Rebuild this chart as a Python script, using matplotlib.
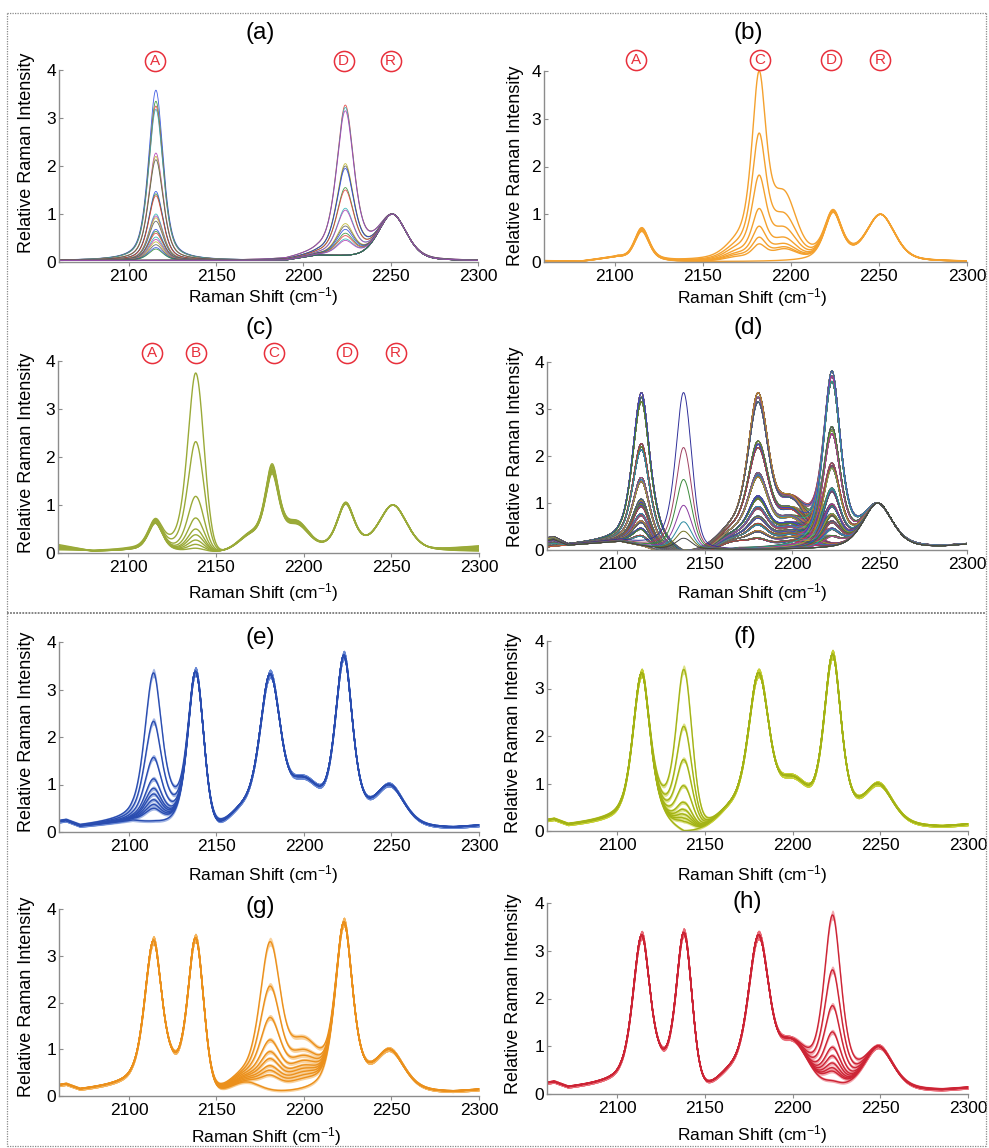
import numpy as np
import matplotlib
matplotlib.use("Agg")
import matplotlib.pyplot as plt
from matplotlib.collections import LineCollection
from matplotlib.lines import Line2D
from matplotlib.transforms import blended_transform_factory

plt.rcParams['font.family'] = ['Liberation Sans', 'DejaVu Sans']
plt.rcParams['mathtext.fontset'] = 'custom'
plt.rcParams['mathtext.rm'] = 'Liberation Sans'
plt.rcParams['mathtext.it'] = 'Liberation Sans:italic'
plt.rcParams['mathtext.bf'] = 'Liberation Sans:bold'

FIG_W, FIG_H, DPI = 989, 1148, 100

# ---------------- data ----------------
x_range = [2060, 2300]
x_ticks = [2100, 2150, 2200, 2250, 2300]
y_ticks = [0, 1, 2, 3, 4]
panel_labels = ['(a)', '(b)', '(c)', '(d)', '(e)', '(f)', '(g)', '(h)']
x_label = 'Raman Shift (cm$^{-1}$)'
y_label = 'Relative Raman Intensity'

# band components: A, B, C pre-shoulder, C, C shoulder, D, R (internal standard)
comp_names = ['A', 'B', 'Cp', 'C', 'Cs', 'D', 'R']
top_centres = [2115.5, 2138.5, 2169.0, 2182.0, 2196.5, 2224.0, 2251.0]
top_fwhm = [10.0, 11.0, 16.0, 10.0, 16.0, 12.0, 19.0]
top_eta_l = [0.55, 0.50, 0.30, 0.70, 0.30, 0.60, 0.40]
top_eta_r = [0.55, 0.00, 0.30, 0.70, 0.30, 0.60, 0.40]
low_centres = [2114.0, 2138.0, 2166.0, 2180.5, 2199.0, 2222.8, 2249.0]
low_fwhm = [12.0, 11.0, 20.0, 13.5, 22.0, 12.0, 20.0]
low_eta_l = [0.50, 0.70, 0.20, 0.40, 0.10, 0.60, 0.50]
low_eta_r = [0.80, 0.20, 0.20, 0.20, 0.10, 0.60, 0.50]

# panel (a): A series and D series, each with internal standard R = 1
a_A_heights = [3.58, 3.35, 3.25, 3.18, 2.27, 2.20, 2.13, 1.47, 1.42, 1.38,
               1.00, 0.96, 0.92, 0.85, 0.68, 0.64, 0.60, 0.52, 0.47, 0.42,
               0.36, 0.30, 0.27]
a_D_heights = [3.27, 3.22, 3.15, 2.05, 2.00, 1.95, 1.55, 1.50, 1.12, 1.08,
               0.80, 0.75, 0.68, 0.60, 0.55, 0.48, 0.45]
a_R_height = 1.0
a_base_x = [2060, 2190, 2208, 2232, 2275, 2300]
a_base_y = [0.03, 0.03, 0.13, 0.08, 0.02, 0.02]

# panel (b): C series
b_A = [0.72, 0.71, 0.70, 0.68, 0.67, 0.66, 0.65, 0.64]
b_Cp = [0.60, 0.45, 0.35, 0.26, 0.20, 0.16, 0.12, 0.0]
b_C = [4.00, 2.70, 1.82, 1.12, 0.75, 0.52, 0.38, 0.0]
b_Cs = [1.50, 1.03, 0.74, 0.52, 0.39, 0.32, 0.28, 0.0]
b_D = [1.10, 1.09, 1.08, 1.07, 1.06, 1.05, 1.05, 1.04]
b_R = 1.0
b_base_x = [2060, 2080, 2092, 2102, 2108, 2135, 2300]
b_base_y = [0.02, 0.00, 0.05, 0.08, 0.03, 0.0, 0.0]

# panel (c): B series
c_A = [0.72, 0.70, 0.68, 0.66, 0.65, 0.64, 0.63, 0.62, 0.62]
c_B = [3.75, 2.32, 1.18, 0.73, 0.50, 0.38, 0.27, 0.18, 0.10]
c_Cp = [0.40, 0.40, 0.41, 0.41, 0.42, 0.42, 0.43, 0.43, 0.44]
c_C = [1.65, 1.68, 1.70, 1.72, 1.75, 1.78, 1.80, 1.83, 1.86]
c_Cs = [0.60, 0.61, 0.62, 0.63, 0.64, 0.65, 0.66, 0.67, 0.68]
c_D = [1.02, 1.03, 1.04, 1.05, 1.05, 1.04, 1.03, 1.02, 1.06]
c_R = 1.0
c_left = [0.05, 0.07, 0.09, 0.11, 0.13, 0.15, 0.17, 0.12, 0.10]
c_right = [0.02, 0.04, 0.06, 0.08, 0.10, 0.12, 0.13, 0.05, 0.03]

# panel (d): full set of mixtures
d_A = [3.25, 2.20, 1.50, 1.05, 0.95, 0.75, 0.60, 0.45, 0.30, 0.0]
d_C = [3.25, 2.25, 1.60, 1.12, 0.90, 0.70, 0.55, 0.40, 0.25, 0.0]
d_Cs = [1.15, 0.90, 0.72, 0.58, 0.50, 0.42, 0.35, 0.28, 0.20, 0.0]
d_Cp = [0.70, 0.58, 0.48, 0.40, 0.35, 0.30, 0.26, 0.22, 0.18, 0.0]
d_D = [3.70, 2.55, 1.80, 1.28, 0.95, 0.75, 0.60, 0.45, 0.30, 0.0]
d_B = [3.35, 2.18, 1.50, 0.95, 0.60, 0.40, 0.25]
d_spread = [0.97, 1.00, 1.03]
d_left = [0.06, 0.12, 0.18, 0.24]

# panels (e)-(h): one analyte varied, the others at full level
full_A, full_B, full_Cp, full_C, full_Cs, full_D, full_R = 3.33, 3.38, 0.72, 3.33, 1.17, 3.72, 1.0
e_A = [3.35, 2.33, 1.57, 1.12, 0.92, 0.80, 0.68, 0.58, 0.50, 0.0]
f_B = [3.40, 2.20, 1.50, 0.95, 0.60, 0.45, 0.35, 0.27, 0.20, 0.0]
g_C = [3.30, 2.35, 1.68, 1.20, 0.95, 0.80, 0.65, 0.55, 0.45, 0.0]
g_Cs = [1.27, 1.00, 0.87, 0.76, 0.66, 0.59, 0.52, 0.45, 0.38, 0.0]
g_Cp = [0.68, 0.60, 0.54, 0.49, 0.45, 0.42, 0.39, 0.36, 0.33, 0.30]
h_D = [3.75, 2.60, 1.85, 1.30, 0.98, 0.80, 0.65, 0.55, 0.48, 0.28]
low_base_x = [2060, 2064, 2072, 2090, 2102, 2115, 2125, 2138, 2153, 2170, 2265, 2285, 2300]
low_base_y = [0.20, 0.22, 0.10, 0.15, 0.18, 0.08, -0.05, -0.20, -0.08, 0.0, 0.03, 0.05, 0.11]

# ---------------- styles ----------------
matlab_colors = ['#2040e0', '#2a8a2a', '#e03030', '#20b0b0', '#b030b0', '#b8b020', '#505050']
b_line_colors = ['#30309a', '#a04060', '#3a8a3a', '#8a3aa0', '#2a8aa0', '#707020', '#404040']
b_color = '#F4A12E'
c_color = '#9AAA38'
band_line = {'e': '#2A4DB0', 'f': '#A3B316', 'g': '#EB901C', 'h': '#CC2435'}
band_fill = {'e': '#6787D4', 'f': '#C6D035', 'g': '#F5B45C', 'h': '#EA6C78'}
circle_red = '#E8303C'
spine_col = '#8c8c8c'

# axes boxes in pixels: left, right, top(y=4), bottom(y=0)
boxes = {
    'a': (59, 478, 70, 262), 'b': (544, 967, 71, 262),
    'c': (58, 479, 361, 553), 'd': (547, 967, 362, 550),
    'e': (59, 479, 642, 832), 'f': (547, 968, 641, 831),
    'g': (59, 479, 909, 1096), 'h': (547, 968, 903, 1094),
}
title_pos = {'a': (260, 33), 'b': (748, 33), 'c': (260, 328), 'd': (748, 328),
             'e': (260, 638), 'f': (745, 637), 'g': (260, 907), 'h': (747, 902)}
xlab_pos = {'a': (263, 297), 'b': (752, 298), 'c': (263, 593), 'd': (752, 593),
            'e': (263, 875), 'f': (752, 875), 'g': (266, 1137), 'h': (752, 1135)}
ylab_pos = {'a': (27, 153), 'b': (515, 166), 'c': (27, 453), 'd': (515, 447),
            'e': (27, 732), 'f': (513, 733), 'g': (27, 997), 'h': (513, 994)}
circles = {
    'a': ([2115, 2223, 2250], ['A', 'D', 'R'], 1.047),
    'b': ([2112, 2182.5, 2223, 2250.6], ['A', 'C', 'D', 'R'], 1.058),
    'c': ([2113.4, 2138.5, 2183, 2224.8, 2252.5], ['A', 'B', 'C', 'D', 'R'], 1.042),
}

x = np.linspace(x_range[0], x_range[1], 961)


def pv(xx, c, w, eta_l, eta_r):
    u = (np.asarray(xx, dtype=float) - c) / w
    eta = np.where(u < 0, eta_l, eta_r)
    return eta / (1.0 + 4.0 * u * u) + (1.0 - eta) * np.exp(-4.0 * np.log(2.0) * u * u)


def spectrum(targets, group, bx, by):
    centres, fwhm, el, er = group
    idx = [i for i, t in enumerate(targets) if t > 0]
    base = np.interp(x, bx, by)
    if not idx:
        return base
    M = np.array([[float(pv(centres[k], centres[i], fwhm[i], el[i], er[i])) for i in idx]
                  for k in idx])
    rhs = np.array([targets[k] for k in idx]) - np.interp([centres[k] for k in idx], bx, by)
    amp = np.linalg.solve(M, rhs)
    basis = np.array([pv(x, centres[i], fwhm[i], el[i], er[i]) for i in idx])
    return base + amp @ basis


TOP = (top_centres, top_fwhm, top_eta_l, top_eta_r)
LOW = (low_centres, low_fwhm, low_eta_l, low_eta_r)

fig = plt.figure(figsize=(FIG_W / DPI, FIG_H / DPI), dpi=DPI)


def px(xp, yp):
    return xp / FIG_W, 1 - yp / FIG_H


axes = {}
for key, (l, r, t, b) in boxes.items():
    ax = fig.add_axes([l / FIG_W, 1 - b / FIG_H, (r - l) / FIG_W, (b - t) / FIG_H])
    ax.set_xlim(*x_range)
    ax.set_ylim(0, 4)
    ax.set_xticks(x_ticks)
    ax.set_yticks(y_ticks)
    for s in ['top', 'right']:
        ax.spines[s].set_visible(False)
    for s in ['left', 'bottom']:
        ax.spines[s].set_color(spine_col)
        ax.spines[s].set_linewidth(1.0)
    ax.tick_params(axis='x', direction='out', length=3, width=0.8, color=spine_col,
                   labelsize=12.5, pad=2)
    ax.tick_params(axis='y', direction='in', length=3, width=0.8, color=spine_col,
                   labelsize=12.5, pad=2)
    axes[key] = ax
    tx, ty = title_pos[key]
    fig.text(*px(tx, ty), panel_labels['abcdefgh'.index(key)], ha='center', va='center',
             fontsize=17.5)
    lx, ly = xlab_pos[key]
    fig.text(*px(lx, ly), x_label, ha='center', va='center', fontsize=12.5)
    yx, yy = ylab_pos[key]
    fig.text(*px(yx, yy), y_label, ha='center', va='center', rotation=90, fontsize=13)

# ---- (a)
ax = axes['a']
curves = []
for h in a_A_heights:
    curves.append(spectrum([h, 0, 0, 0, 0, 0, a_R_height], TOP, a_base_x, a_base_y))
for h in a_D_heights:
    curves.append(spectrum([0, 0, 0, 0, 0, h, a_R_height], TOP, a_base_x, a_base_y))
for i, y in enumerate(curves):
    ax.plot(x, y, color=matlab_colors[i % 7], lw=0.6, alpha=0.85)

# ---- (b)
ax = axes['b']
for i in range(len(b_C)):
    y = spectrum([b_A[i], 0, b_Cp[i], b_C[i], b_Cs[i], b_D[i], b_R], TOP, b_base_x, b_base_y)
    ax.plot(x, y, color=b_color, lw=1.0)

# ---- (c)
ax = axes['c']
for i in range(len(c_B)):
    bx = [2060, 2080, 2100, 2150, 2270, 2300]
    by = [c_left[i], 0.03, 0.04, -0.03, 0.02, c_right[i]]
    y = spectrum([c_A[i], c_B[i], c_Cp[i], c_C[i], c_Cs[i], c_D[i], c_R], TOP, bx, by)
    ax.plot(x, y, color=c_color, lw=1.0)

# ---- (d)
ax = axes['d']
segs, cols = [], []
k = 0
for ia, ha in enumerate(d_A):
    for ic, hc in enumerate(d_C):
        for idd, hd in enumerate(d_D):
            by = list(low_base_y)
            by[0] = d_left[k % 4]
            by[1] = d_left[k % 4] + 0.02
            s = d_spread[(ic + idd) % 3]
            s2 = d_spread[(ia + idd) % 3]
            s3 = d_spread[(ia + ic) % 3]
            y = spectrum([ha * s, 0, d_Cp[ic], hc * s2, d_Cs[ic] * s2, hd * s3, 1.0], LOW,
                         low_base_x, by)
            segs.append(np.column_stack([x, y]))
            cols.append(matlab_colors[k % 7])
            k += 1
ax.add_collection(LineCollection(segs, colors=cols, linewidths=0.55, alpha=0.9))
for j, hb in enumerate(d_B):
    by = list(low_base_y)
    by[6], by[7], by[8] = 0.02, 0.0, 0.02
    y = spectrum([0, hb, 0, 0, 0, 0, 1.0], LOW, low_base_x, by)
    ax.plot(x, y, color=b_line_colors[j % 7], lw=0.7)


# ---- (e)-(h)
def band_panel(key, series):
    ax = axes[key]
    for tg in series:
        y = spectrum(tg, LOW, low_base_x, low_base_y)
        hw = 0.03 + 0.02 * np.abs(y)
        ax.fill_between(x, y - hw, y + hw, color=band_fill[key], alpha=0.6, lw=0)
        ax.plot(x, y, color=band_line[key], lw=1.0)


band_panel('e', [[a, full_B, full_Cp, full_C, full_Cs, full_D, full_R] for a in e_A])
band_panel('f', [[full_A, b, full_Cp, full_C, full_Cs, full_D, full_R] for b in f_B])
band_panel('g', [[full_A, full_B, g_Cp[i], g_C[i], g_Cs[i], full_D, full_R]
                 for i in range(len(g_C))])
band_panel('h', [[full_A, full_B, full_Cp, full_C, full_Cs, d, full_R] for d in h_D])

# ---- circled peak labels
for key, (xs, letters, yf) in circles.items():
    ax = axes[key]
    tr = blended_transform_factory(ax.transData, ax.transAxes)
    for xv, lt in zip(xs, letters):
        ax.plot([xv], [yf], marker='o', ms=14.5, mfc='none', mec=circle_red, mew=1.1,
                transform=tr, clip_on=False)
        ax.text(xv, yf, lt, transform=tr, ha='center', va='center', color=circle_red,
                fontsize=11, clip_on=False)

# ---- dotted frame and separator
frame_style = dict(color='#8a8a8a', lw=0.9, linestyle=(0, (1, 1)))
L, R_, T, B = 7, 986, 13, 1146
for (x0, y0, x1, y1) in [(L, T, R_, T), (L, T, L, B), (R_, T, R_, B), (L, B, R_, B)]:
    fig.add_artist(Line2D([x0 / FIG_W, x1 / FIG_W], [1 - y0 / FIG_H, 1 - y1 / FIG_H],
                          transform=fig.transFigure, **frame_style))
fig.add_artist(Line2D([L / FIG_W, R_ / FIG_W], [1 - 613 / FIG_H, 1 - 613 / FIG_H],
                      transform=fig.transFigure, color='#7a7a7a', lw=1.3,
                      linestyle=(0, (1, 0.7))))

fig.savefig('out.png', dpi=DPI)
